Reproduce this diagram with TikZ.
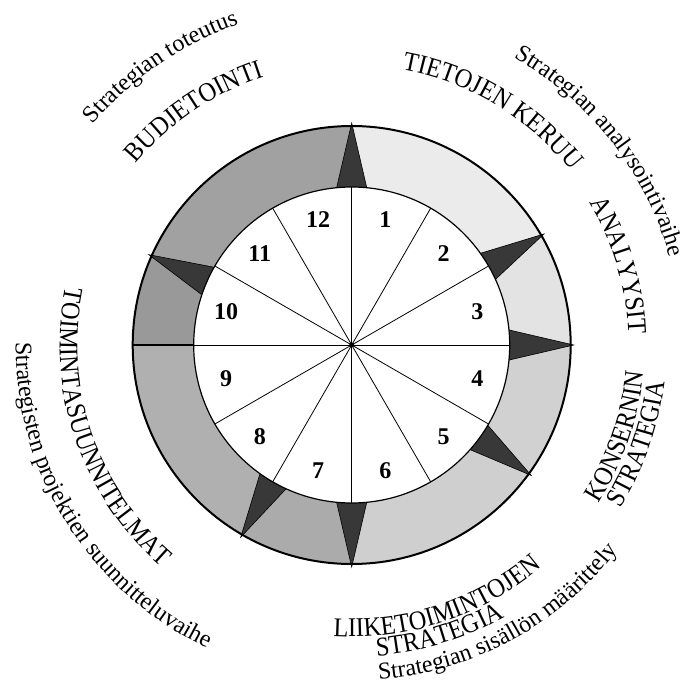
\documentclass[tikz,border=0pt]{standalone}
\usepackage{fontspec}
\setmainfont{Liberation Serif}
\newfontfamily\capsface[FakeStretch=0.9]{Liberation Serif}
\usetikzlibrary{decorations.text}

\definecolor{ringA}{gray}{0.92}
\definecolor{ringB}{gray}{0.89}
\definecolor{ringC}{gray}{0.82}
\definecolor{ringD}{gray}{0.81}
\definecolor{ringE}{gray}{0.67}
\definecolor{ringF}{gray}{0.69}
\definecolor{ringG}{gray}{0.60}
\definecolor{ringH}{gray}{0.63}
\definecolor{tipgray}{gray}{0.22}

\newcommand{\labelcaps}{\capsface\fontsize{27}{30}\selectfont}
\newcommand{\labelsmall}{\fontsize{24}{28}\selectfont}

\begin{document}
\begin{tikzpicture}[
    x=1pt, y=1pt,
    num/.style={font=\fontsize{24}{28}\selectfont\bfseries},
    spoke/.style={line width=0.8pt},
    tip/.style={fill=tipgray, draw=black, line width=0.6pt},
    curved/.style={decorate, decoration={text along path, text align=center, text={#1}}}
]
    \useasboundingbox (-351.7,-341) rectangle (341.3,345);
    \coordinate (c) at (0,0);

    % ring segments
    \foreach \s/\e/\col in {90/30/ringA, 30/0/ringB, 0/-36/ringC, -36/-90/ringD,
                            -90/-120/ringE, -120/-180/ringF, 180/156/ringG, 156/90/ringH}
        \fill[\col] (\s:158) -- (\s:219) arc[start angle=\s, end angle=\e, radius=219]
            -- (\e:158) arc[start angle=\e, end angle=\s, radius=158] -- cycle;

    % arrow heads
    \foreach \a in {90,30,0,-36,-90,-120,156}
        \draw[tip] ({\a-6.5}:150) -- (\a:222) -- ({\a+6.5}:150) -- cycle;

    \draw[fill=white, line width=1.2pt] (c) circle[radius=158];
    \foreach \a in {0,30,...,330}
        \draw[spoke] (c) -- (\a:158);
    \draw[line width=1.2pt] (180:158) -- (180:219);
    \draw[line width=2pt] (c) circle[radius=219];
    \fill (c) circle[radius=2.5];

    \foreach \k in {1,...,12}
        \node[num] (n\k) at ({105-30*\k}:130) {\k};

    % labels, upper half
    \path[curved={|\labelsmall|Strategian toteutus}] (174.5:340) arc[start angle=174.5, end angle=74.5, radius=340];
    \path[curved={|\labelcaps|BUDJETOINTI}] (174:282) arc[start angle=174, end angle=74, radius=282];
    \path[curved={|\labelcaps|TIETOJEN KERUU}] (109:280) arc[start angle=109, end angle=9, radius=280];
    \path[curved={|\labelsmall|Strategian analysointivaihe}] (88:330) arc[start angle=88, end angle=-12, radius=330];
    \path[curved={|\labelcaps|ANALYYSIT}] (66.5:277) arc[start angle=66.5, end angle=-33.5, radius=277];

    % labels, lower half
    \path[curved={|\labelcaps|KONSERNIN}] (-69:293) arc[start angle=-69, end angle=31, radius=293];
    \path[curved={|\labelcaps|STRATEGIA}] (-69:315) arc[start angle=-69, end angle=31, radius=315];
    \path[curved={|\labelcaps|LIIKETOIMINTOJEN}] (-121.5:292) arc[start angle=-121.5, end angle=-21.5, radius=292];
    \path[curved={|\labelcaps|STRATEGIA}] (-123:312) arc[start angle=-123, end angle=-23, radius=312];
    \path[curved={|\labelsmall|Strategian sisällön määrittely}] (-111.5:336) arc[start angle=-111.5, end angle=-11.5, radius=336];
    \path[curved={|\labelcaps|TOIMINTASUUNNITELMAT}] (149:292) arc[start angle=149, end angle=249, radius=292];
    \path[curved={|\labelsmall|Strategisten projektien suunnitteluvaihe}] (162:336) arc[start angle=162, end angle=262, radius=336];
\end{tikzpicture}
\end{document}
